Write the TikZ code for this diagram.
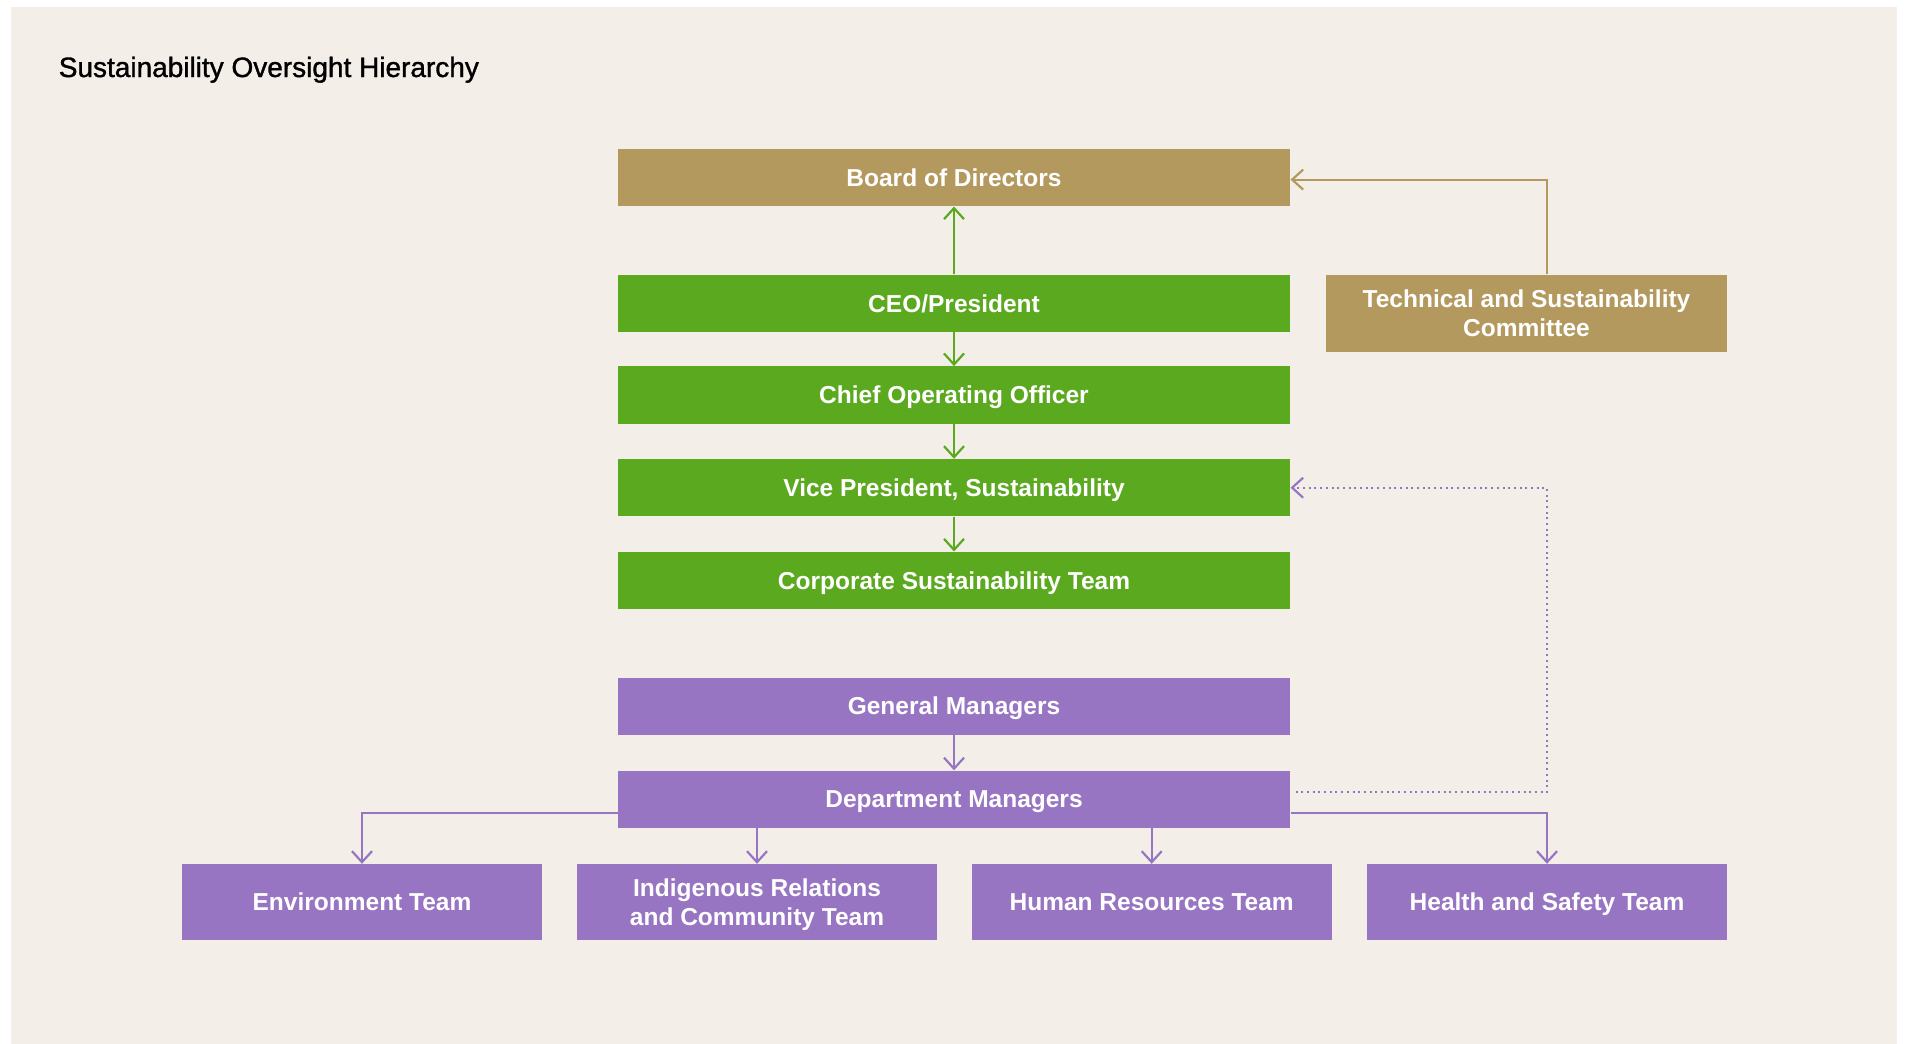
\documentclass[tikz,border=0pt]{standalone}
\usepackage{fontspec}
\setmainfont{Liberation Sans}
\newfontfamily\titlefont[FakeBold=1.2]{Liberation Sans}
\usetikzlibrary{arrows.meta}

\definecolor{paper}{HTML}{F3EFE8}
\definecolor{gold}{HTML}{B3995E}
\definecolor{leaf}{HTML}{5BA91F}
\definecolor{lilac}{HTML}{9775C3}
\newcommand{\boxfont}{\fontsize{24.5}{29.5}\selectfont\bfseries}
% strut that centres capitals in the box
\newcommand{\lblstrut}{\rule[-6.5pt]{0pt}{30.5pt}}

\begin{document}
\begin{tikzpicture}[x=1pt,y=-1pt,
  box/.style={fill=#1, text=white, font=\boxfont, align=center, inner sep=0pt,
    minimum width=672.6pt, minimum height=57.4pt,
    execute at begin node=\lblstrut, execute at end node=\lblstrut},
  team/.style={box=lilac, minimum width=360pt, minimum height=76pt},
  link/.style={draw=#1, line width=2.2pt, -{Straight Barb[length=11pt,width=20pt]}},
  dotlink/.style={link=#1, dash pattern=on 2pt off 3.7pt}]
% Page and panel
\useasboundingbox (0,0) rectangle (1914,1044);
\fill[white] (0,0) rectangle (1914,1044);
\fill[paper] (11,7) rectangle (1897,1044);
\node[anchor=base west, inner sep=0pt, font=\titlefont\fontsize{28}{33}\selectfont] (title) at (58.6,77)
  {Sustainability Oversight Hierarchy};

% Main reporting column
\foreach \n/\c/\y/\txt in {board/gold/177.6/Board of Directors,
    ceo/leaf/303.3/{CEO/President},
    coo/leaf/395/Chief Operating Officer,
    vp/leaf/487.7/{Vice President, Sustainability},
    corp/leaf/580.4/Corporate Sustainability Team,
    gm/lilac/706.2/General Managers,
    dept/lilac/799.2/Department Managers}
  \node[box=\c] (\n) at (954,\y) {\txt};

% Committee beside the board
\node[box=gold, minimum width=401.6pt, minimum height=77pt] (tsc) at (1526.5,313)
  {\lblstrut Technical and Sustainability\\Committee};

% Operating teams
\foreach \n/\x/\txt in {env/362/Environment Team,
    irc/757/{\lblstrut Indigenous Relations\\and Community Team},
    hr/1151.7/Human Resources Team,
    hs/1547/Health and Safety Team}
  \node[team] (\n) at (\x,902) {\txt};

% Green chain
\draw[link=leaf] (ceo) -- (board);
\draw[link=leaf] (ceo) -- (coo);
\draw[link=leaf] (coo) -- (vp);
\draw[link=leaf] (vp) -- (corp);

% Committee reports to the board
\draw[link=gold] (tsc.north -| hs.north) |- ([yshift=-2pt]board.east);

% Managers and teams
\draw[link=lilac] (gm) -- (dept);
\coordinate (dl) at ([yshift=-14pt]dept.west);
\coordinate (dr) at ([yshift=-14pt]dept.east);
\draw[link=lilac] (dl) -| (env.north);
\draw[link=lilac] (dr) -| (hs.north);
\draw[link=lilac] (dept.south -| irc.north) -- (irc.north);
\draw[link=lilac] (dept.south -| hr.north) -- (hr.north);

% Dotted line back to the VP
\coordinate (dtap) at ([xshift=5pt,yshift=7pt]dept.east);
\draw[dotlink=lilac] (dtap) -| (hs.north |- vp.east) -- (vp.east);
\end{tikzpicture}
\end{document}
